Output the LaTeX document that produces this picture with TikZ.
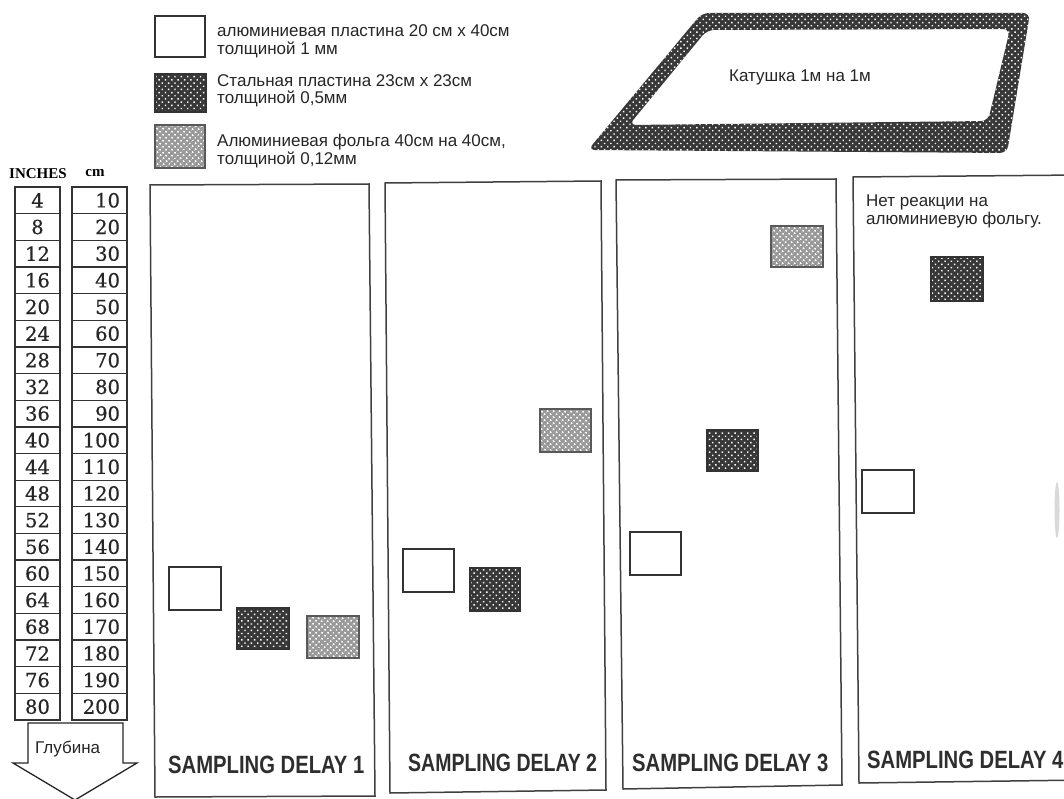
\documentclass[tikz,border=0pt]{standalone}
\usepackage{fontspec}
\setmainfont{Liberation Sans}
\newfontfamily\numserif[FakeBold=0.6]{DejaVu Serif}
\newfontfamily\hdrserif{Liberation Serif}
\usetikzlibrary{patterns.meta}
\newcommand{\narrowlbl}[2][0.81]{\scalebox{#1}[1]{#2}}
\begin{document}
\begin{tikzpicture}[x=1pt,y=-1pt,
  whitebox/.style={draw=black!80, line width=1.6pt, fill=white, inner sep=0pt},
  darkbox/.style={draw=black!80, line width=1.4pt, inner sep=0pt, preaction={fill=black!78},
    pattern={Dots[distance=4.5pt, radius=1pt, angle=45]}, pattern color=white},
  lightbox/.style={draw=black!65, line width=1.2pt, inner sep=0pt, preaction={fill=black!40},
    pattern={Dots[distance=4pt, radius=1.2pt, angle=45]}, pattern color=white},
  legtext/.style={anchor=west, align=left, inner sep=0pt, text=black!85,
    font=\fontsize{17}{17.5}\selectfont},
  panel/.style={draw=black!75, line width=1.5pt},
  lbl/.style={anchor=west, inner sep=0pt, text=black!82,
    font=\fontsize{25}{26}\selectfont\bfseries},
  incell/.style={draw=black!80, line width=1.3pt, minimum width=45pt, minimum height=26.65pt,
    inner sep=0pt, font=\fontsize{19.5}{20}\selectfont\numserif, text=black!85},
  cmcell/.style={draw=black!80, line width=1.3pt, minimum width=55pt, minimum height=26.65pt,
    inner xsep=7pt, inner ysep=0pt, text width=41pt, align=right,
    font=\fontsize{19.5}{20}\selectfont\numserif, text=black!85},
  hdr/.style={inner sep=0pt, font=\fontsize{15}{15}\selectfont\hdrserif\bfseries}
]
\useasboundingbox (0,0) rectangle (1064,799);
\clip (0,0) rectangle (1064,799);
\fill[white] (0,0) rectangle (1064,799);

% legend
\node[whitebox, minimum width=50pt, minimum height=41pt] (lw) at (180,36.5) {};
\node[darkbox, minimum width=51pt, minimum height=38pt] (ld) at (180.5,93) {};
\node[lightbox, minimum width=50pt, minimum height=43pt] (ll) at (180,146.5) {};
\node[legtext] (tw) at (217,41.5) {алюминиевая пластина 20 см х 40см\\толщиной 1 мм};
\node[legtext] (td) at (217,91) {Стальная пластина 23см х 23см\\толщиной 0,5мм};
\node[legtext] (tl) at (217,151) {Алюминиевая фольга 40см на 40см,\\толщиной 0,12мм};

% coil
\fill[black!78, even odd rule, rounded corners=7pt]
  (702,13) -- (1030,13) -- (1007,153) -- (588,150) -- cycle
  (707,30) -- (1010,29) -- (988,121) -- (629,125) -- cycle;
\fill[pattern={Dots[distance=4.5pt, radius=1pt, angle=45]}, pattern color=white,
  even odd rule, rounded corners=7pt]
  (702,13) -- (1030,13) -- (1007,153) -- (588,150) -- cycle
  (707,30) -- (1010,29) -- (988,121) -- (629,125) -- cycle;
\node[legtext, anchor=center] (coil) at (800,77) {Катушка 1м на 1м};

% depth scale
\node[hdr] (hin) at (38,174) {INCHES};
\node[hdr] (hcm) at (95,173) {cm};
\foreach \i in {0,...,19}{
  \pgfmathsetmacro{\yc}{187+(\i+0.5)*26.65}
  \pgfmathtruncatemacro{\inch}{4*(\i+1)}
  \pgfmathtruncatemacro{\cmv}{10*(\i+1)}
  \node[incell] (in\i) at (37.5,\yc) {\inch};
  \node[cmcell] (cm\i) at (99.5,\yc) {\cmv};
}
\draw[black!85, line width=1.3pt, fill=white]
  (28,723) -- (123,723) -- (123,763) -- (137,763) -- (75,800) -- (13,763) -- (28,763) -- cycle;
\node[legtext] (depth) at (35,749) {Глубина};

% panels
\draw[panel] (150,185) -- (369,184) -- (375,796) -- (155,797) -- cycle;
\draw[panel] (385,183) -- (601,181) -- (606,790) -- (390,793) -- cycle;
\draw[panel] (616,180) -- (836,179) -- (842,785) -- (623,789) -- cycle;
\draw[panel] (853,177) -- (1080,175) -- (1085,780) -- (859,783) -- cycle;

% panel 1
\node[whitebox, minimum width=52pt, minimum height=43pt] (w1) at (195,588.5) {};
\node[darkbox, minimum width=52pt, minimum height=41pt] (d1) at (263,628.5) {};
\node[lightbox, minimum width=52pt, minimum height=42pt] (f1) at (333,637) {};
% panel 2
\node[lightbox, minimum width=51pt, minimum height=43pt] (f2) at (565.5,430.5) {};
\node[whitebox, minimum width=51pt, minimum height=43pt] (w2) at (428.5,570.5) {};
\node[darkbox, minimum width=50pt, minimum height=43pt] (d2) at (495,589.5) {};
% panel 3
\node[lightbox, minimum width=52pt, minimum height=41pt] (f3) at (797,246.5) {};
\node[darkbox, minimum width=51pt, minimum height=41pt] (d3) at (732.5,450.5) {};
\node[whitebox, minimum width=51pt, minimum height=43pt] (w3) at (655.5,553.5) {};
% panel 4
\node[darkbox, minimum width=52pt, minimum height=44pt] (d4) at (957,279) {};
\node[whitebox, minimum width=52pt, minimum height=43pt] (w4) at (888,491.5) {};
\node[legtext, font=\fontsize{17}{18}\selectfont] (note) at (866,211) {Нет реакции на\\алюминиевую фольгу.};
\fill[black!15] (1057,510) ellipse [x radius=2.5pt, y radius=28pt];

% labels
\node[lbl] (s1) at (168,765) {\narrowlbl{SAMPLING DELAY 1}};
\node[lbl] (s2) at (408,763) {\narrowlbl[0.78]{SAMPLING DELAY 2}};
\node[lbl] (s3) at (632,763) {\narrowlbl{SAMPLING DELAY 3}};
\node[lbl] (s4) at (867,760) {\narrowlbl{SAMPLING DELAY 4}};
\end{tikzpicture}
\end{document}
